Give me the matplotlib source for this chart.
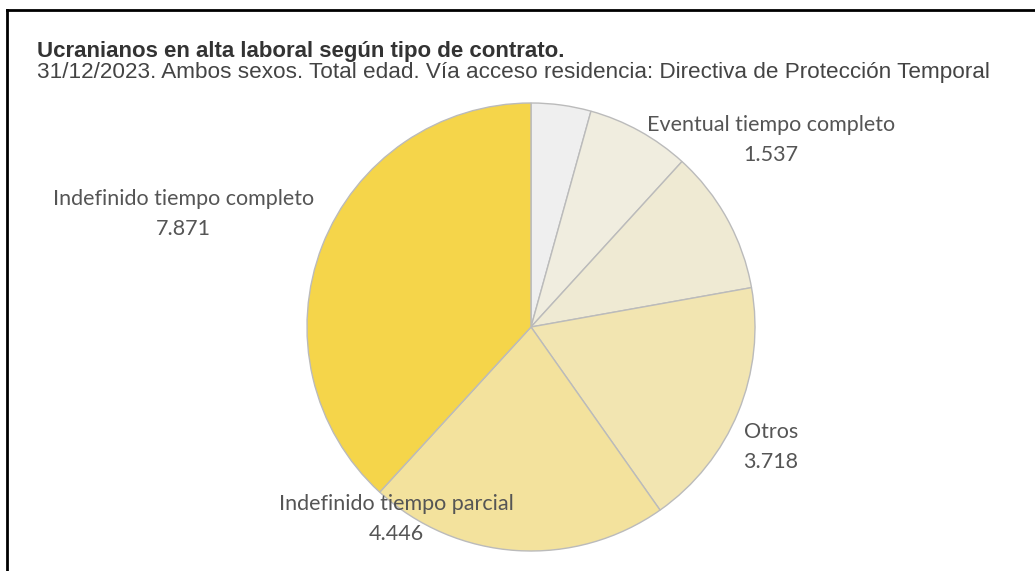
import matplotlib
matplotlib.use("Agg")
import matplotlib.pyplot as plt
from matplotlib.lines import Line2D

# Data (clockwise from 12 o'clock)
categories = ["Otro tipo (sin etiqueta)", "Eventual tiempo completo", "Eventual tiempo parcial (sin etiqueta)",
              "Otros", "Indefinido tiempo parcial", "Indefinido tiempo completo"]
values = [889, 1537, 2146, 3718, 4446, 7871]
value_labels = [None, "1.537", None, "3.718", "4.446", "7.871"]
show_label = [False, True, False, True, True, True]
colors = ["#EFEFEF", "#F0EDDF", "#EFEAD3", "#F2E5B1", "#F3E29D", "#F5D54A"]

# Layout (label name centres in pie data units, radius = 1)
label_pos = {1: (1.07, 0.90), 3: (1.07, -0.47), 4: (-0.60, -0.79), 5: (-1.55, 0.57)}
line_gap = 0.133

W, H = 1035, 571
fig = plt.figure(figsize=(W / 100, H / 100), dpi=100)
fig.patch.set_facecolor("white")

cx, cy, r = 531, 327, 224
ax = fig.add_axes([(cx - r) / W, (H - cy - r) / H, 2 * r / W, 2 * r / H])
ax.pie(values, colors=colors, startangle=90, counterclock=False, radius=1,
       wedgeprops=dict(edgecolor="#BBBBBB", linewidth=1.0))
ax.set_xlim(-1, 1)
ax.set_ylim(-1, 1)
ax.set_aspect("equal")
ax.axis("off")

lab_font = dict(family=["Lato", "DejaVu Sans"], fontsize=15.5, color="#555555",
                ha="center", va="center", clip_on=False)
for i, pos in label_pos.items():
    if not show_label[i]:
        continue
    x, y = pos
    ax.text(x, y, categories[i], **lab_font)
    ax.text(x, y - line_gap, value_labels[i], **lab_font)

# Titles
fig.text(37 / W, 1 - 57 / H, "Ucranianos en alta laboral según tipo de contrato.",
         family=["Liberation Sans", "DejaVu Sans"], fontsize=16, fontweight="bold",
         color="#333333", ha="left", va="baseline")
fig.text(37 / W, 1 - 78 / H,
         "31/12/2023. Ambos sexos. Total edad. Vía acceso residencia: Directiva de Protección Temporal",
         family=["Liberation Sans", "DejaVu Sans"], fontsize=16.2, color="#444444",
         ha="left", va="baseline")

# Frame lines (top and left)
fig.add_artist(Line2D([7 / W, 1], [1 - 10 / H, 1 - 10 / H], color="black", lw=2,
                      transform=fig.transFigure))
fig.add_artist(Line2D([7 / W, 7 / W], [0, 1 - 10 / H], color="black", lw=2,
                      transform=fig.transFigure))

fig.savefig("out.png", dpi=100, facecolor="white")
